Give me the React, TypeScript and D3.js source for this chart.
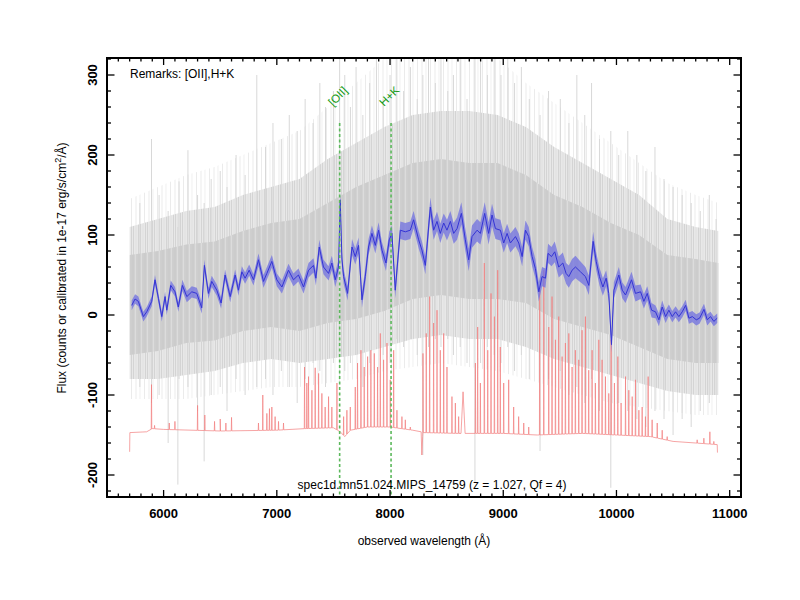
import React, { useEffect, useRef } from 'react';
import * as d3 from 'd3';

// smoothed spectrum: [wavelength, flux, error]
const smoothed: [number, number, number][] = [
  [5718, 12, 6], [5748, 20, 6], [5777, 17, 6], [5821, -2, 6], [5851, 4, 6], [5895, 17, 6],
  [5924, 44, 6], [5954, 21, 6], [5984, -2, 6], [6013, 23, 6], [6028, 6, 6], [6063, 37, 6],
  [6101, 29, 6], [6130, 10, 6], [6166, 37, 7], [6205, 23, 7], [6249, 29, 7], [6293, 27, 7],
  [6337, 9, 7], [6360, 62, 7], [6396, 27, 7], [6425, 42, 7], [6470, 31, 7], [6508, 15, 7],
  [6543, 50, 7], [6588, 23, 7], [6632, 50, 7], [6661, 31, 7], [6691, 54, 7], [6720, 46, 7],
  [6756, 56, 7], [6794, 44, 7], [6838, 69, 8], [6882, 42, 8], [6912, 52, 8], [6956, 67, 8],
  [7000, 44, 8], [7045, 35, 8], [7103, 56, 8], [7147, 44, 8], [7191, 50, 8], [7236, 35, 8],
  [7280, 56, 9], [7324, 62, 9], [7345, 46, 9], [7375, 85, 9], [7412, 60, 9], [7457, 52, 9],
  [7486, 65, 9], [7516, 44, 9], [7545, 60, 9], [7560, 144, 9], [7575, 70, 9], [7590, 48, 9],
  [7625, 27, 9], [7664, 85, 10], [7693, 73, 10], [7722, 87, 10], [7752, 19, 10], [7781, 48, 10],
  [7810, 85, 10], [7840, 102, 10], [7870, 87, 10], [7899, 106, 10], [7929, 81, 10], [7964, 65, 10],
  [7993, 94, 10], [8017, 102, 10], [8046, 31, 10], [8091, 106, 11], [8135, 104, 11], [8179, 106, 11],
  [8208, 119, 11], [8253, 94, 11], [8282, 81, 11], [8312, 62, 11], [8356, 135, 12], [8385, 106, 12],
  [8415, 117, 12], [8444, 102, 12], [8474, 115, 12], [8503, 106, 13], [8533, 117, 13], [8562, 102, 13],
  [8592, 108, 14], [8630, 127, 14], [8665, 94, 14], [8695, 69, 14], [8724, 98, 14], [8769, 106, 14],
  [8798, 102, 14], [8836, 127, 14], [8871, 102, 14], [8901, 125, 14], [8931, 108, 13], [8975, 106, 13],
  [9004, 90, 12], [9034, 102, 12], [9063, 90, 12], [9108, 98, 12], [9137, 90, 12], [9167, 73, 12],
  [9196, 106, 12], [9225, 98, 12], [9255, 73, 12], [9284, 58, 12], [9314, 29, 12], [9343, 48, 12],
  [9373, 46, 12], [9396, 77, 12], [9426, 73, 12], [9455, 79, 13], [9490, 60, 13], [9526, 65, 13],
  [9555, 52, 13], [9579, 48, 14], [9608, 56, 14], [9638, 60, 14], [9682, 54, 13], [9726, 48, 12],
  [9756, 37, 12], [9794, 92, 12], [9821, 67, 11], [9850, 48, 11], [9880, 35, 11], [9909, 46, 10],
  [9932, 27, 10], [9956, -37, 10], [9977, 31, 10], [10021, 50, 10], [10051, 31, 10], [10080, 25, 10],
  [10133, 44, 10], [10168, 27, 10], [10213, 29, 9], [10242, 17, 9], [10272, 27, 9], [10310, 6, 9],
  [10345, 4, 8], [10375, -6, 8], [10404, 10, 8], [10434, -2, 8], [10463, 6, 7], [10493, -2, 7],
  [10522, 4, 7], [10551, -2, 7], [10581, 4, 7], [10611, 12, 7], [10640, -4, 7], [10670, -2, 7],
  [10705, -6, 7], [10734, -4, 7], [10773, 7, 7], [10802, -6, 7], [10831, -2, 6], [10860, -8, 6],
  [10890, -4, 6],
];

// raw spectrum envelopes
const grayWave = [5700, 5950, 6200, 6450, 6700, 6950, 7200, 7450, 7700, 7950, 8200, 8450, 8700, 8950, 9200, 9450, 9700, 9950, 10200, 10450, 10700, 10900];
const coreHi = [75, 80, 88, 92, 105, 115, 120, 140, 160, 175, 190, 195, 190, 190, 175, 150, 135, 115, 100, 75, 70, 65];
const coreLo = [-50, -45, -35, -32, -20, -15, -20, -10, -5, 5, 20, 25, 20, 20, 15, -5, -15, -25, -40, -55, -60, -60];
const outerHi = [110, 120, 130, 135, 150, 160, 170, 195, 215, 235, 250, 255, 255, 250, 235, 210, 190, 170, 150, 120, 110, 105];
const outerLo = [-80, -80, -75, -70, -60, -55, -60, -55, -50, -40, -30, -25, -30, -30, -40, -55, -65, -75, -85, -95, -100, -100];
const hazeHi = [145, 160, 175, 185, 200, 215, 230, 260, 290, 321, 321, 321, 321, 321, 290, 265, 240, 215, 190, 165, 150, 140];
const hazeLo = [-105, -105, -105, -100, -95, -90, -90, -85, -80, -70, -65, -60, -65, -70, -80, -90, -100, -110, -115, -120, -125, -125];

// single noisy pixels that stand out: [wavelength, top, bottom]
const graySpikes: [number, number, number][] = [
  [5790, 140, -90], [5893, 220, -110], [5960, 150, -100], [6040, 130, -160], [6126, 110, -212],
  [6136, 167, -80], [6215, 206, -90], [6300, 150, -120], [6358, 140, -183], [6420, 170, -100],
  [6500, 180, -90], [6560, 160, -120], [6640, 200, -80], [6720, 175, -100], [6823, 300, -90],
  [6900, 210, -80], [6966, 240, -100], [7040, 220, -70], [7110, 250, -90], [7180, 230, -110],
  [7250, 270, -80], [7320, 240, -60], [7380, 290, -70], [7430, 260, -90], [7500, 280, -60],
  [7555, 325, -40], [7600, 300, -70], [7650, 260, -60], [7700, 310, -50], [7760, 250, -90],
  [7820, 290, -60], [7880, 325, -40], [7940, 270, -50], [8000, 300, -60], [8060, 325, -30],
  [8120, 280, -40], [8180, 310, -30], [8240, 270, -50], [8290, 300, -175], [8340, 325, -40],
  [8400, 290, -30], [8450, 325, -40], [8510, 280, -30], [8560, 300, -50], [8620, 325, -40],
  [8680, 270, -60], [8750, 325, -210], [8800, 325, -60], [8860, 300, -40], [8920, 325, -50],
  [8980, 300, -60], [9040, 325, -40], [9100, 290, -70], [9160, 310, -50], [9230, 270, -80],
  [9325, 250, -170], [9400, 280, -80], [9504, 270, -70], [9580, 240, -100], [9650, 300, -90],
  [9720, 250, -110], [9780, 290, -80], [9850, 220, -120], [9950, 230, -216], [10020, 200, -110],
  [10100, 230, -120], [10180, 200, -130], [10260, 180, -140], [10340, 210, -120], [10420, 170, -130],
  [10500, 160, -150], [10580, 150, -130], [10660, 140, -140], [10740, 130, -120], [10820, 150, -110],
  [10880, 120, -100],
];

// sky spectrum (offset): continuum and emission lines [wavelength, peak, half width]
const skyBase: [number, number][] = [
  [5700, -171], [5702, -147], [5850, -146], [5900, -142], [6000, -143], [6500, -145], [7000, -144],
  [7250, -142], [7500, -141], [7560, -146], [7600, -152], [7650, -144], [7800, -140], [8000, -140],
  [8200, -144], [8275, -146], [8281, -175], [8290, -147], [8600, -148], [9000, -148], [9300, -150],
  [9700, -148], [10000, -150], [10300, -152], [10500, -158], [10700, -160], [10890, -162], [10892, -172],
];
const skyLines: [number, number, number?][] = [
  [5893, -87], [5920, -138], [6050, -135], [6100, -133], [6300, -113], [6364, -125], [6450, -133],
  [6500, -130], [6550, -135], [6600, -128], [6838, -135], [6876, -100], [6912, -123], [6935, -117],
  [6956, -115], [6985, -127], [7015, -133], [7059, -135], [7245, -65], [7265, -85], [7280, -77],
  [7310, -94], [7339, -66], [7369, -73], [7398, -98], [7427, -115], [7457, -102], [7486, -115],
  [7531, -85], [7590, -127], [7619, -119], [7649, -115], [7693, -90], [7713, -60], [7743, -44],
  [7772, -65], [7802, -52], [7831, -44], [7861, -48], [7890, -65], [7914, -23], [7943, -56],
  [7973, -35], [8002, -81], [8032, -44], [8061, -119], [8105, -127], [8135, -131], [8179, -140],
  [8291, -48], [8320, -23], [8350, 23], [8385, -10], [8415, 6], [8444, -44], [8474, -23],
  [8503, -65], [8547, -102], [8577, -110], [8606, -127], [8645, -96, 18], [8754, -60], [8774, -15],
  [8798, -85], [8833, 65], [8863, -44], [8892, 27], [8922, -2], [8951, 56], [8974, -40],
  [9004, -85], [9048, -81], [9092, -115], [9136, -127], [9181, -135], [9225, -140], [9322, 31],
  [9358, 56], [9402, -15], [9431, 23], [9461, -31], [9490, -2], [9520, -52], [9549, -35],
  [9579, -23], [9608, -65], [9637, -44], [9667, -56], [9696, -19], [9726, -2], [9755, -69],
  [9785, -44], [9814, -85], [9844, -31], [9873, -56], [9903, -77], [9932, -98], [9953, -31],
  [9982, -85], [10012, -52], [10041, -110], [10080, -77], [10109, -94], [10139, -102], [10168, -81],
  [10198, -119], [10227, -115], [10256, -127], [10280, -77], [10315, -131], [10360, -135], [10404, -144],
  [10448, -152], [10713, -156], [10772, -154], [10825, -146], [10860, -158],
];

// identified features
const features = [
  { label: '[OII]', wave: 7555 },
  { label: 'H+K', wave: 8009 },
];

const xTicks = [6000, 7000, 8000, 9000, 10000, 11000];
const yTicks = [-200, -100, 0, 100, 200, 300];

const title = 'spec1d.mn51.024.MIPS_14759 (z = 1.027, Qf = 4)';
const remarks = 'Remarks: [OII],H+K';

// vertical streak textures for the noisy raw spectrum
const streaks = [
  { id: 'haze', w: 13, bg: 'none', lines: [[1.5, '#e6e6e6', 0.8], [6, '#eeeeee', 1.2], [10, '#e9e9e9', 0.7]] },
  { id: 'outer', w: 7, bg: '#e8e8e8', lines: [[0.5, '#d4d4d4', 1], [3, '#e0e0e0', 1], [5.5, '#cfcfcf', 0.8]] },
  { id: 'core', w: 6, bg: '#d2d2d2', lines: [[1, '#c6c6c6', 1], [3.5, '#dcdcdc', 1], [5, '#c9c9c9', 0.8]] },
] as const;

const Spectrum: React.FC = () => {
  const svgRef = useRef<SVGSVGElement | null>(null);

  useEffect(() => {
    const svg = d3.select(svgRef.current);
    svg.selectAll('*').remove();

    const left = 107, right = 741, top = 58, bottom = 497;
    const x = d3.scaleLinear().domain([5500, 11100]).range([left, right]);
    const y = d3.scaleLinear().domain([-227.5, 321.25]).range([bottom, top]);
    const font = 'Liberation Sans, Arial, Helvetica, sans-serif';

    svg.append('rect').attr('width', 800).attr('height', 600).attr('fill', '#fff');

    const defs = svg.append('defs');
    defs.append('clipPath').attr('id', 'plotclip')
      .append('rect').attr('x', left).attr('y', top).attr('width', right - left).attr('height', bottom - top);
    streaks.forEach((s) => {
      const p = defs.append('pattern').attr('id', s.id).attr('patternUnits', 'userSpaceOnUse')
        .attr('width', s.w).attr('height', 10);
      if (s.bg !== 'none') p.append('rect').attr('width', s.w).attr('height', 10).attr('fill', s.bg);
      s.lines.forEach(([lx, c, lw]) => {
        p.append('line').attr('x1', lx).attr('x2', lx).attr('y1', 0).attr('y2', 10)
          .attr('stroke', c).attr('stroke-width', lw);
      });
    });

    const g = svg.append('g').attr('clip-path', 'url(#plotclip)');

    const band = (hi: number[], lo: number[]) =>
      d3.area<number>()
        .x((w) => x(w))
        .y0((_, i) => y(lo[i]))
        .y1((_, i) => y(hi[i]));

    g.append('path').attr('d', band(hazeHi, hazeLo)(grayWave)).attr('fill', 'url(#haze)');
    g.append('path').attr('d', band(outerHi, outerLo)(grayWave)).attr('fill', 'url(#outer)');

    g.selectAll('.gspike')
      .data(graySpikes)
      .enter().append('line')
      .attr('x1', (d) => x(d[0])).attr('x2', (d) => x(d[0]))
      .attr('y1', (d) => y(d[1])).attr('y2', (d) => y(d[2]))
      .attr('stroke', '#d8d8d8').attr('stroke-width', 1);

    g.append('path').attr('d', band(coreHi, coreLo)(grayWave)).attr('fill', 'url(#core)');

    // sky
    const baseAt = d3.scaleLinear().domain(skyBase.map((d) => d[0])).range(skyBase.map((d) => d[1]));
    const skyPts: [number, number][] = skyBase.map((d) => [d[0], d[1]]);
    skyLines.forEach(([w, peak, hw]) => {
      const h = hw ?? 2.5;
      skyPts.push([w - h, baseAt(w - h)], [w, peak], [w + h, baseAt(w + h)]);
    });
    skyPts.sort((a, b) => a[0] - b[0]);
    g.append('path')
      .attr('d', d3.line<[number, number]>().x((d) => x(d[0])).y((d) => y(d[1]))(skyPts))
      .attr('fill', 'none').attr('stroke', '#f27e7e').attr('stroke-width', 0.7);

    // smoothed spectrum
    g.append('path')
      .attr('d', d3.area<[number, number, number]>()
        .x((d) => x(d[0]))
        .y0((d) => y(d[1] - d[2]))
        .y1((d) => y(d[1] + d[2]))(smoothed))
      .attr('fill', '#7070e0').attr('fill-opacity', 0.75);
    g.append('path')
      .attr('d', d3.line<[number, number, number]>().x((d) => x(d[0])).y((d) => y(d[1]))(smoothed))
      .attr('fill', 'none').attr('stroke', '#3434d4').attr('stroke-width', 1);

    // feature markers
    features.forEach((f) => {
      svg.append('line')
        .attr('x1', x(f.wave)).attr('x2', x(f.wave))
        .attr('y1', y(240)).attr('y2', bottom)
        .attr('stroke', '#5cb85c').attr('stroke-width', 1.6).attr('stroke-dasharray', '3,2.5');
      svg.append('text')
        .attr('transform', `translate(${x(f.wave) + 1},${y(270)}) rotate(-45)`)
        .attr('text-anchor', 'middle')
        .attr('font-family', font).attr('font-size', 11.5).attr('fill', '#149a14')
        .text(f.label);
    });

    svg.append('text').attr('x', 130).attr('y', 78)
      .attr('font-family', font).attr('font-size', 12).text(remarks);
    svg.append('text').attr('x', 432).attr('y', 489).attr('text-anchor', 'middle')
      .attr('font-family', font).attr('font-size', 12).text(title);

    // frame and ticks
    svg.append('rect').attr('x', left).attr('y', top).attr('width', right - left).attr('height', bottom - top)
      .attr('fill', 'none').attr('stroke', '#000').attr('stroke-width', 2);

    const ax = svg.append('g').attr('stroke', '#000').attr('stroke-width', 1.3);
    const xMinor = d3.range(5500, 11101, 100);
    const yMinor = d3.range(-220, 321, 20);
    xMinor.forEach((w) => {
      const len = w % 1000 === 0 ? 7 : 3.5;
      ax.append('line').attr('x1', x(w)).attr('x2', x(w)).attr('y1', bottom).attr('y2', bottom - len);
      ax.append('line').attr('x1', x(w)).attr('x2', x(w)).attr('y1', top).attr('y2', top + len);
    });
    yMinor.forEach((v) => {
      const len = v % 100 === 0 ? 7.5 : 4;
      ax.append('line').attr('x1', left).attr('x2', left + len).attr('y1', y(v)).attr('y2', y(v));
      ax.append('line').attr('x1', right).attr('x2', right - len).attr('y1', y(v)).attr('y2', y(v));
    });

    svg.selectAll('.xlab').data(xTicks).enter().append('text')
      .attr('x', (d) => x(d)).attr('y', 518).attr('text-anchor', 'middle')
      .attr('font-family', font).attr('font-size', 13).attr('font-weight', 'bold')
      .text((d) => String(d));
    svg.selectAll('.ylab').data(yTicks).enter().append('text')
      .attr('transform', (d) => `translate(97,${y(d)}) rotate(-90)`).attr('text-anchor', 'middle')
      .attr('font-family', font).attr('font-size', 13).attr('font-weight', 'bold')
      .text((d) => String(d));

    svg.append('text').attr('x', 424).attr('y', 545).attr('text-anchor', 'middle')
      .attr('font-family', font).attr('font-size', 12).text('observed wavelength (Å)');

    const yt = svg.append('text').attr('transform', 'translate(66,268) rotate(-90)').attr('text-anchor', 'middle')
      .attr('font-family', font).attr('font-size', 12);
    yt.append('tspan').text('Flux (counts or calibrated in 1e-17 erg/s/cm');
    yt.append('tspan').attr('dy', -5).attr('font-size', 9).text('2');
    yt.append('tspan').attr('dy', 5).text('/Å)');
  }, []);

  return (
    <svg ref={svgRef} width={800} height={600}
      style={{ position: 'absolute', left: 0, top: 0, display: 'block' }} />
  );
};

export default function App() {
  return <Spectrum />;
}
